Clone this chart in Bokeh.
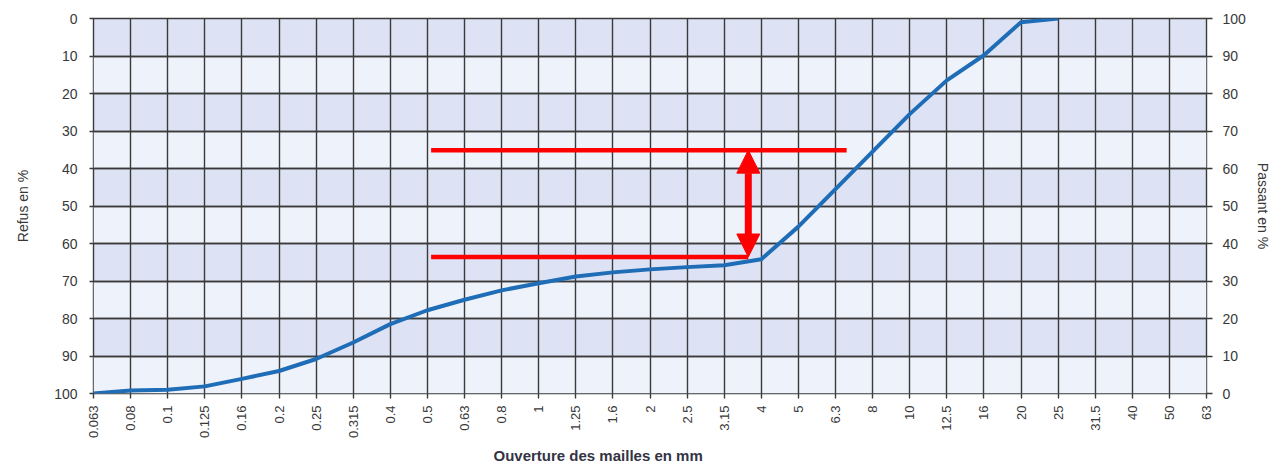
import math
from bokeh.plotting import figure
from bokeh.models import Range1d, LinearAxis, FixedTicker, Arrow, NormalHead, Title, Grid
from bokeh.embed import file_html
from bokeh.resources import INLINE

# ---- data ----
sieve_labels = ["0.063", "0.08", "0.1", "0.125", "0.16", "0.2", "0.25", "0.315", "0.4",
                "0.5", "0.63", "0.8", "1", "1.25", "1.6", "2", "2.5", "3.15", "4", "5",
                "6.3", "8", "10", "12.5", "16", "20", "25", "31.5", "40", "50", "63"]
curve_sieves = ["0.063", "0.08", "0.1", "0.125", "0.16", "0.2", "0.25", "0.315", "0.4",
                "0.5", "0.63", "0.8", "1", "1.25", "1.6", "2", "2.5", "3.15", "4", "5",
                "6.3", "8", "10", "12.5", "16", "20", "25"]
refus_pct = [100, 99.2, 99.0, 98.1, 96.1, 94.0, 90.8, 86.4, 81.5,
             77.8, 75.0, 72.5, 70.6, 68.8, 67.7, 66.9, 66.3, 65.8, 64.2, 55.5,
             45.5, 35.5, 25.5, 16.5, 9.8, 1.0, 0.0]
pct_ticks = [0, 10, 20, 30, 40, 50, 60, 70, 80, 90, 100]

# annotation (refus levels and sieve-index positions)
upper_level = 35.1
lower_level = 63.6
marker_start = 9.1
upper_end = 20.3
arrow_pos = 17.65

# ---- figure ----
positions = list(range(len(sieve_labels)))
curve_x = [sieve_labels.index(s) for s in curve_sieves]

GRID = "#3a3a3a"
TXT = "#383838"
FONT = "Liberation Sans"

p = figure(frame_width=1113, frame_height=375,
           x_range=Range1d(positions[0], positions[-1]),
           y_range=Range1d(pct_ticks[-1], pct_ticks[0]),
           output_backend="svg", toolbar_location=None,
           min_border_left=93, min_border_top=18, min_border_right=58, min_border_bottom=70,
           background_fill_color="#dde3f5", border_fill_color="white",
           outline_line_color=GRID, outline_line_width=1.4)

p.extra_y_ranges = {"pass": Range1d(pct_ticks[0], pct_ticks[-1])}

# alternating horizontal bands (drawn beneath all grid lines)
band_grid = Grid(dimension=1, ticker=FixedTicker(ticks=pct_ticks), grid_line_color=None,
                 band_fill_color="#eef2fa", band_fill_alpha=1.0)
p.center = [band_grid] + list(p.center)

# grids
p.xgrid.ticker = FixedTicker(ticks=positions)
p.xgrid.grid_line_color = GRID
p.xgrid.grid_line_width = 1.4
p.ygrid.ticker = FixedTicker(ticks=pct_ticks)
p.ygrid.grid_line_color = GRID
p.ygrid.grid_line_width = 1.4

# x axis
xa = p.xaxis[0]
xa.ticker = FixedTicker(ticks=positions)
xa.major_label_overrides = {i: s for i, s in enumerate(sieve_labels)}
xa.major_label_orientation = math.pi / 2
xa.major_tick_out = 5
xa.major_tick_in = 0
xa.major_tick_line_color = GRID
xa.major_tick_line_width = 1.4
xa.minor_tick_line_color = None
xa.axis_line_color = None
xa.major_label_standoff = 7
xa.major_label_text_font = FONT
xa.major_label_text_font_size = "13px"
xa.major_label_text_color = TXT

# left axis
ya = p.yaxis[0]
ya.ticker = FixedTicker(ticks=pct_ticks)
ya.major_tick_out = 4
ya.major_tick_in = 0
ya.major_tick_line_color = GRID
ya.major_tick_line_width = 1.4
ya.minor_tick_line_color = None
ya.axis_line_color = None
ya.major_label_standoff = 12
ya.major_label_text_font = FONT
ya.major_label_text_font_size = "14px"
ya.major_label_text_color = TXT
ya.axis_label = "Refus en %"
ya.axis_label_standoff = 20
ya.axis_label_text_font = FONT
ya.axis_label_text_font_size = "14px"
ya.axis_label_text_font_style = "normal"
ya.axis_label_text_color = TXT

# right axis
ra = LinearAxis(y_range_name="pass", ticker=FixedTicker(ticks=pct_ticks),
                axis_label="Passant en %")
ra.major_tick_out = 6
ra.major_tick_in = 0
ra.major_tick_line_color = GRID
ra.major_tick_line_width = 1.4
ra.minor_tick_line_color = None
ra.axis_line_color = None
ra.major_label_standoff = 10
ra.major_label_text_font = FONT
ra.major_label_text_font_size = "14px"
ra.major_label_text_color = TXT
ra.axis_label_standoff = 6
ra.axis_label_text_font = FONT
ra.axis_label_text_font_size = "14px"
ra.axis_label_text_font_style = "normal"
ra.axis_label_text_color = TXT
p.add_layout(ra, "right")

# x title
p.add_layout(Title(text="Ouverture des mailles en mm", align="left", offset=400,
                   text_font=FONT, text_font_size="15px", text_font_style="bold",
                   text_color="#333344", standoff=6), "below")

# curve
p.line(curve_x, refus_pct, line_color="#1f6db6", line_width=4, line_join="round")

# red markers
p.segment(x0=[marker_start, marker_start], y0=[upper_level, lower_level],
          x1=[upper_end, arrow_pos], y1=[upper_level, lower_level],
          line_color="#ff0000", line_width=4.5)
p.add_layout(Arrow(start=NormalHead(size=23, fill_color="#ff0000", line_color="#ff0000"),
                   end=NormalHead(size=23, fill_color="#ff0000", line_color="#ff0000"),
                   x_start=arrow_pos, y_start=lower_level, x_end=arrow_pos, y_end=upper_level,
                   line_color="#ff0000", line_width=7))

open("out.html", "w").write(file_html(p, INLINE))
